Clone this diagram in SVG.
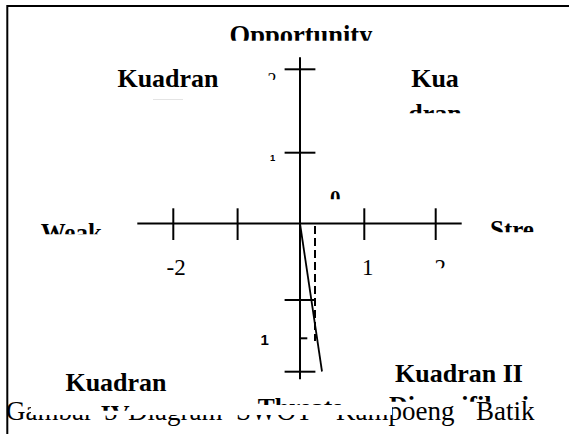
<svg xmlns="http://www.w3.org/2000/svg" width="569" height="434" viewBox="0 0 569 434">
<style>
.b{font-family:"Liberation Serif","Times New Roman",serif;font-weight:bold;fill:#000}
.r{font-family:"Liberation Serif","Times New Roman",serif;fill:#000}
.s{font-family:"Liberation Sans",Arial,sans-serif;font-weight:bold;fill:#000}
.ax{stroke:#000;stroke-width:2;fill:none}
</style>
<defs>
<clipPath id="cOpp"><rect x="200" y="0" width="200" height="40.7"/></clipPath>
<clipPath id="cKua2"><rect x="380" y="95" width="120" height="18.3"/></clipPath>
<clipPath id="cTop2"><rect x="250" y="60" width="40" height="20"/></clipPath>
<clipPath id="cZero"><rect x="320" y="180" width="40" height="19.3"/></clipPath>
<clipPath id="cWeak"><rect x="30" y="210" width="90" height="24.3"/></clipPath>
<clipPath id="cStre"><rect x="480" y="210" width="89" height="22.3"/></clipPath>
<clipPath id="cTwo"><rect x="425" y="250" width="40" height="18.3"/></clipPath>
<clipPath id="cIV"><rect x="60" y="395" width="120" height="15.7"/></clipPath>
<clipPath id="cThr"><rect x="240" y="390" width="120" height="15"/></clipPath>
<clipPath id="cDiv"><rect x="380" y="390" width="160" height="11.7"/></clipPath>
</defs>

<g id="frame" class="ax">
<line x1="7.3" y1="6" x2="569" y2="6"/>
<line x1="7.3" y1="5" x2="7.3" y2="434"/>
</g>

<g id="caption">
<text class="r" y="419.5" font-size="27"><tspan x="6">Gambar</tspan><tspan x="104">5</tspan><tspan x="128">Diagram</tspan><tspan x="236">SWOT</tspan><tspan x="336">Kampoeng</tspan><tspan x="476">Batik</tspan></text>
</g>

<g id="covers" fill="#fff">
<rect x="31" y="360" width="361" height="55"/>
</g>

<g id="connectors">
<g class="ax">
<line x1="300" y1="57.3" x2="300" y2="379.3"/>
<line x1="137.3" y1="223.5" x2="461.7" y2="223.5"/>
<line x1="284.6" y1="69.3" x2="315.4" y2="69.3"/>
<line x1="284.6" y1="152.7" x2="315.4" y2="152.7"/>
<line x1="284.6" y1="300" x2="315.4" y2="300"/>
<line x1="300" y1="338.3" x2="307.3" y2="338.3"/>
<line x1="284.6" y1="371.7" x2="315.4" y2="371.7"/>
<line x1="173.3" y1="208.3" x2="173.3" y2="240"/>
<line x1="237.6" y1="208.3" x2="237.6" y2="240"/>
<line x1="364.3" y1="208.3" x2="364.3" y2="240"/>
<line x1="435.7" y1="208.3" x2="435.7" y2="240"/>
</g>
<line x1="300" y1="223.5" x2="322" y2="371.5" stroke="#000" stroke-width="1.8"/>
<line x1="315" y1="226" x2="315" y2="341" stroke="#000" stroke-width="2" stroke-dasharray="8,4"/>
</g>

<g id="opportunity"><text class="b" x="301" y="44.3" font-size="26.5" text-anchor="middle" clip-path="url(#cOpp)">Opportunity</text></g>
<g id="kuadran-iii">
<text class="b" x="168" y="87.3" font-size="26" text-anchor="middle">Kuadran</text>
<line x1="153" y1="99.5" x2="183" y2="99.5" stroke="#e4e4e4" stroke-width="1"/>
</g>
<g id="kuadran-i">
<text class="b" x="435" y="87.3" font-size="26" text-anchor="middle">Kua</text>
<text class="b" x="435" y="121.6" font-size="26" text-anchor="middle" clip-path="url(#cKua2)">dran</text>
</g>
<g id="label-y2"><text class="r" x="267.5" y="86" font-size="18" clip-path="url(#cTop2)">2</text></g>
<g id="label-y1"><text class="s" x="270" y="161" font-size="9.5">1</text></g>
<g id="label-zero"><text class="b" x="330" y="205" font-size="21" clip-path="url(#cZero)">0</text></g>
<g id="weak"><text class="b" x="40.7" y="241.2" font-size="25" clip-path="url(#cWeak)">Weak</text></g>
<g id="strength"><text class="b" x="490" y="238" font-size="25" clip-path="url(#cStre)">Stre</text></g>
<g id="label-xm2"><text class="r" x="166.5" y="275" font-size="23">-2</text></g>
<g id="label-x1"><text class="r" x="362" y="275" font-size="23">1</text></g>
<g id="label-x2"><text class="r" x="434.5" y="275" font-size="23" clip-path="url(#cTwo)">2</text></g>
<g id="label-ym1"><text class="s" x="260.5" y="345" font-size="15">1</text></g>
<g id="kuadran-iv">
<text class="b" x="116" y="391" font-size="26" text-anchor="middle">Kuadran</text>
<text class="b" x="115" y="422.6" font-size="26" text-anchor="middle" clip-path="url(#cIV)">IV</text>
</g>
<g id="threats"><text class="b" x="300" y="415.6" font-size="25.5" text-anchor="middle" clip-path="url(#cThr)">Threats</text></g>
<g id="kuadran-ii">
<text class="b" x="459" y="381.7" font-size="26" text-anchor="middle">Kuadran II</text>
<text class="b" x="459" y="413.6" font-size="26" text-anchor="middle" clip-path="url(#cDiv)">Diversifikasi</text>
</g>
</svg>
